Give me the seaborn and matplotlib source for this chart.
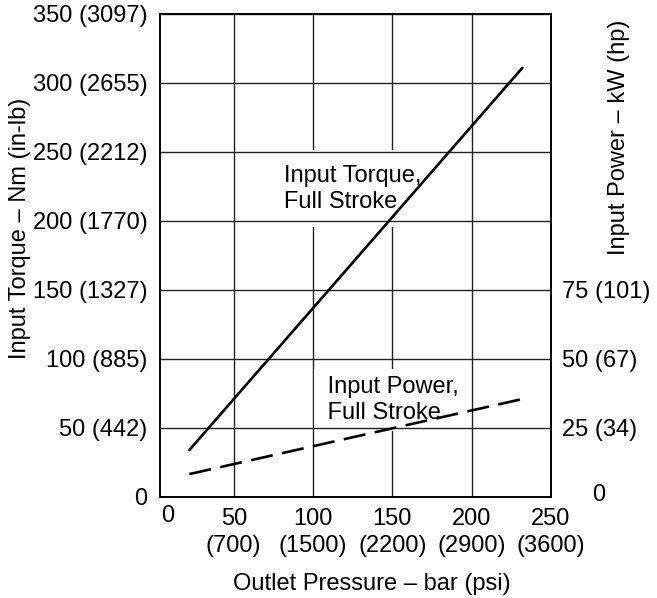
import pandas as pd
import matplotlib
matplotlib.use("Agg")
import matplotlib.pyplot as plt
import seaborn as sns

# values
pressure_bar = [22, 232]
torque_nm = [34, 311]
power_kw = [8.3, 35.5]

x_ticks = [50, 100, 150, 200, 250]
x_tick_labels = ["50\n(700)", "100\n(1500)", "150\n(2200)", "200\n(2900)", "250\n(3600)"]
torque_ticks = [0, 50, 100, 150, 200, 250, 300, 350]
torque_tick_labels = ["0", "50 (442)", "100 (885)", "150 (1327)", "200 (1770)",
                      "250 (2212)", "300 (2655)", "350 (3097)"]
power_ticks = [25, 50, 75]
power_tick_labels = ["25 (34)", "50 (67)", "75 (101)"]

sns.set_style("white")
plt.rcParams["font.family"] = ["Liberation Sans", "DejaVu Sans"]
plt.rcParams["font.size"] = 17
plt.rcParams["text.color"] = "black"

fig = plt.figure(figsize=(6.57, 5.98), dpi=100)
ax = fig.add_axes([0.2435, 0.1689, 0.5951, 0.8077])

df = pd.DataFrame({"pressure": pressure_bar, "torque": torque_nm, "power": power_kw})

sns.lineplot(data=df, x="pressure", y="torque", ax=ax, color="black", lw=1.9, zorder=5)

ax.set_xlim(3.5, 250)
ax.set_ylim(0, 350)
ax.set_xticks(x_ticks)
ax.set_xticklabels(x_tick_labels, linespacing=1.3)
ax.set_yticks(torque_ticks)
ax.set_yticklabels(torque_tick_labels)
ax.tick_params(axis="x", length=0, pad=8, colors="black", labelcolor="black")
ax.tick_params(axis="y", length=0, pad=9, colors="black", labelcolor="black")
ax.grid(True, color="#222222", lw=1.0)
ax.set_axisbelow(True)
# horizontal grid drawn above the label boxes, vertical grid below them
ax.yaxis.set_zorder(3.5)
ax.set_xlabel("")
ax.set_ylabel("")
for s in ax.spines.values():
    s.set_color("black")
    s.set_linewidth(1.2)

# va="baseline" puts the last line's baseline at y
box = dict(boxstyle="square,pad=0.6", facecolor="white", edgecolor="none")
ax.text(82, 209.4, "Input Torque,\nFull Stroke", ha="left", va="baseline",
        linespacing=1.26, bbox=box, zorder=3, color="black")
# leading space widens the white box on the left only
box2 = dict(boxstyle="square,pad=0.3", facecolor="white", edgecolor="none")
ax.text(105.3, 56.5, " Input Power,\n Full Stroke", ha="left", va="baseline",
        linespacing=1.26, bbox=box2, zorder=3, color="black")
ax.text(0.02, -0.017, "0", transform=ax.transAxes, ha="center", va="top", color="black")

ax2 = ax.twinx()
sns.lineplot(data=df, x="pressure", y="power", ax=ax2, color="black", lw=1.9,
             linestyle=(0, (8.4, 3.6)))
ax2.set_ylim(0, 175)
ax2.set_yticks(power_ticks)
ax2.set_yticklabels(power_tick_labels)
ax2.tick_params(axis="y", length=0, pad=8, colors="black", labelcolor="black")
ax2.set_ylabel("")
ax2.grid(False)
for s in ax2.spines.values():
    s.set_color("black")
    s.set_linewidth(1.2)
ax2.text(1.123, 0.004, "0", transform=ax2.transAxes, ha="center", va="center", color="black")

fig.text(20 / 657, 1 - 228 / 598, "Input Torque – Nm (in-lb)", rotation=90,
         ha="center", va="center", color="black")
fig.text(619 / 657, 1 - 137 / 598, "Input Power – kW (hp)", rotation=90,
         ha="center", va="center", color="black")
fig.text(371.7 / 657, 1 - 590 / 598, "Outlet Pressure – bar (psi)",
         ha="center", va="baseline", color="black")

fig.savefig("out.png", dpi=100)
